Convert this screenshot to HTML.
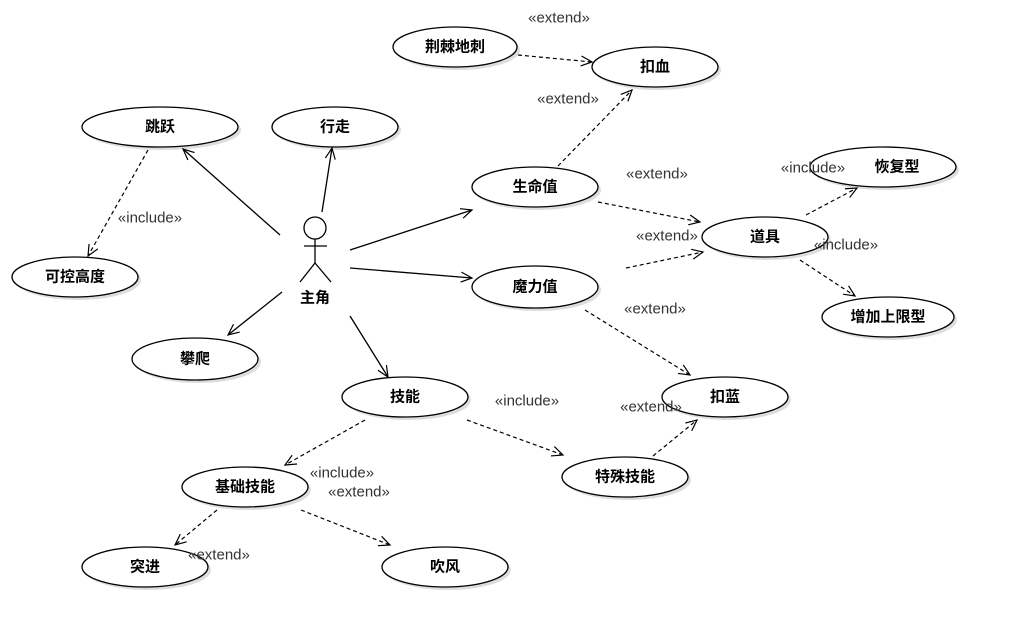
<!DOCTYPE html>
<html><head><meta charset="utf-8"><style>
html,body{margin:0;padding:0;background:#fff}
svg{display:block}
.u{font-family:"Liberation Sans","Noto Sans CJK SC",sans-serif;font-size:15px;font-weight:bold;text-anchor:middle;dominant-baseline:central}
.l{font-family:"Liberation Sans",sans-serif;font-size:15px;fill:#333;text-anchor:middle;dominant-baseline:central}
</style></head><body>
<svg width="1035" height="638" viewBox="0 0 1035 638" xmlns="http://www.w3.org/2000/svg">
<defs>
<marker id="a" markerWidth="14" markerHeight="12" refX="12" refY="6" orient="auto" markerUnits="userSpaceOnUse">
<path d="M1,1 L12,6 L1,11" fill="none" stroke="#000" stroke-width="1.2"/></marker>
</defs>
<g fill="#fff" stroke="#000" stroke-width="1.3">
<ellipse cx="458" cy="50" rx="62" ry="20" fill="#ddd" stroke="none"/>
<ellipse cx="455" cy="47" rx="62" ry="20"/>
<ellipse cx="658" cy="70" rx="63" ry="20" fill="#ddd" stroke="none"/>
<ellipse cx="655" cy="67" rx="63" ry="20"/>
<ellipse cx="163" cy="130" rx="78" ry="20" fill="#ddd" stroke="none"/>
<ellipse cx="160" cy="127" rx="78" ry="20"/>
<ellipse cx="338" cy="130" rx="63" ry="20" fill="#ddd" stroke="none"/>
<ellipse cx="335" cy="127" rx="63" ry="20"/>
<ellipse cx="538" cy="190" rx="63" ry="20" fill="#ddd" stroke="none"/>
<ellipse cx="535" cy="187" rx="63" ry="20"/>
<ellipse cx="886" cy="170" rx="73" ry="20" fill="#ddd" stroke="none"/>
<ellipse cx="883" cy="167" rx="73" ry="20"/>
<ellipse cx="768" cy="240" rx="63" ry="20" fill="#ddd" stroke="none"/>
<ellipse cx="765" cy="237" rx="63" ry="20"/>
<ellipse cx="78" cy="280" rx="63" ry="20" fill="#ddd" stroke="none"/>
<ellipse cx="75" cy="277" rx="63" ry="20"/>
<ellipse cx="538" cy="290" rx="63" ry="21" fill="#ddd" stroke="none"/>
<ellipse cx="535" cy="287" rx="63" ry="21"/>
<ellipse cx="891" cy="320" rx="66" ry="20" fill="#ddd" stroke="none"/>
<ellipse cx="888" cy="317" rx="66" ry="20"/>
<ellipse cx="198" cy="362" rx="63" ry="21" fill="#ddd" stroke="none"/>
<ellipse cx="195" cy="359" rx="63" ry="21"/>
<ellipse cx="408" cy="400" rx="63" ry="20" fill="#ddd" stroke="none"/>
<ellipse cx="405" cy="397" rx="63" ry="20"/>
<ellipse cx="728" cy="400" rx="63" ry="20" fill="#ddd" stroke="none"/>
<ellipse cx="725" cy="397" rx="63" ry="20"/>
<ellipse cx="248" cy="490" rx="63" ry="20" fill="#ddd" stroke="none"/>
<ellipse cx="245" cy="487" rx="63" ry="20"/>
<ellipse cx="628" cy="480" rx="63" ry="20" fill="#ddd" stroke="none"/>
<ellipse cx="625" cy="477" rx="63" ry="20"/>
<ellipse cx="148" cy="570" rx="63" ry="20" fill="#ddd" stroke="none"/>
<ellipse cx="145" cy="567" rx="63" ry="20"/>
<ellipse cx="448" cy="570" rx="63" ry="20" fill="#ddd" stroke="none"/>
<ellipse cx="445" cy="567" rx="63" ry="20"/>
</g>
<g stroke="#000" stroke-width="1.3" fill="none">
<circle cx="315" cy="228" r="11"/>
<line x1="315" y1="239" x2="315" y2="263"/>
<line x1="304" y1="246" x2="327" y2="246"/>
<line x1="315" y1="263" x2="300" y2="282"/>
<line x1="315" y1="263" x2="331" y2="282"/>
</g>
<g stroke="#000" stroke-width="1.3" fill="none" marker-end="url(#a)">
<line x1="280" y1="235" x2="183" y2="149"/>
<line x1="322" y1="212" x2="332" y2="148"/>
<line x1="350" y1="250" x2="472" y2="210"/>
<line x1="350" y1="268" x2="472" y2="278"/>
<line x1="282" y1="292" x2="228" y2="335"/>
<line x1="350" y1="316" x2="388" y2="377"/>
</g>
<g stroke="#000" stroke-width="1.2" fill="none" stroke-dasharray="4,3" marker-end="url(#a)">
<line x1="148" y1="150" x2="88" y2="256"/>
<line x1="518" y1="55" x2="592" y2="62"/>
<line x1="558" y1="166" x2="632" y2="90"/>
<line x1="598" y1="202" x2="700" y2="222"/>
<line x1="626" y1="268" x2="703" y2="252"/>
<line x1="806" y1="215" x2="857" y2="188"/>
<line x1="800" y1="260" x2="855" y2="296"/>
<line x1="585" y1="310" x2="690" y2="375"/>
<line x1="467" y1="420" x2="563" y2="455"/>
<line x1="653" y1="456" x2="697" y2="420"/>
<line x1="365" y1="420" x2="285" y2="465"/>
<line x1="217" y1="510" x2="175" y2="545"/>
<line x1="301" y1="510" x2="390" y2="545"/>
</g>
<g class="u">
<text x="455" y="47">荆棘地刺</text>
<text x="655" y="67">扣血</text>
<text x="160" y="127">跳跃</text>
<text x="335" y="127">行走</text>
<text x="535" y="187">生命值</text>
<text x="897" y="167">恢复型</text>
<text x="765" y="237">道具</text>
<text x="75" y="277">可控高度</text>
<text x="535" y="287">魔力值</text>
<text x="888" y="317">增加上限型</text>
<text x="195" y="359">攀爬</text>
<text x="405" y="397">技能</text>
<text x="725" y="397">扣蓝</text>
<text x="245" y="487">基础技能</text>
<text x="625" y="477">特殊技能</text>
<text x="145" y="567">突进</text>
<text x="445" y="567">吹风</text>
<text x="315" y="298">主角</text>
</g>
<g class="l">
<text x="559" y="18">«extend»</text>
<text x="568" y="99">«extend»</text>
<text x="657" y="174">«extend»</text>
<text x="667" y="236">«extend»</text>
<text x="655" y="309">«extend»</text>
<text x="651" y="407">«extend»</text>
<text x="150" y="218">«include»</text>
<text x="813" y="168">«include»</text>
<text x="846" y="245">«include»</text>
<text x="527" y="401">«include»</text>
<text x="342" y="473">«include»</text>
<text x="359" y="492">«extend»</text>
<text x="219" y="555">«extend»</text>
</g>
</svg>
</body></html>
